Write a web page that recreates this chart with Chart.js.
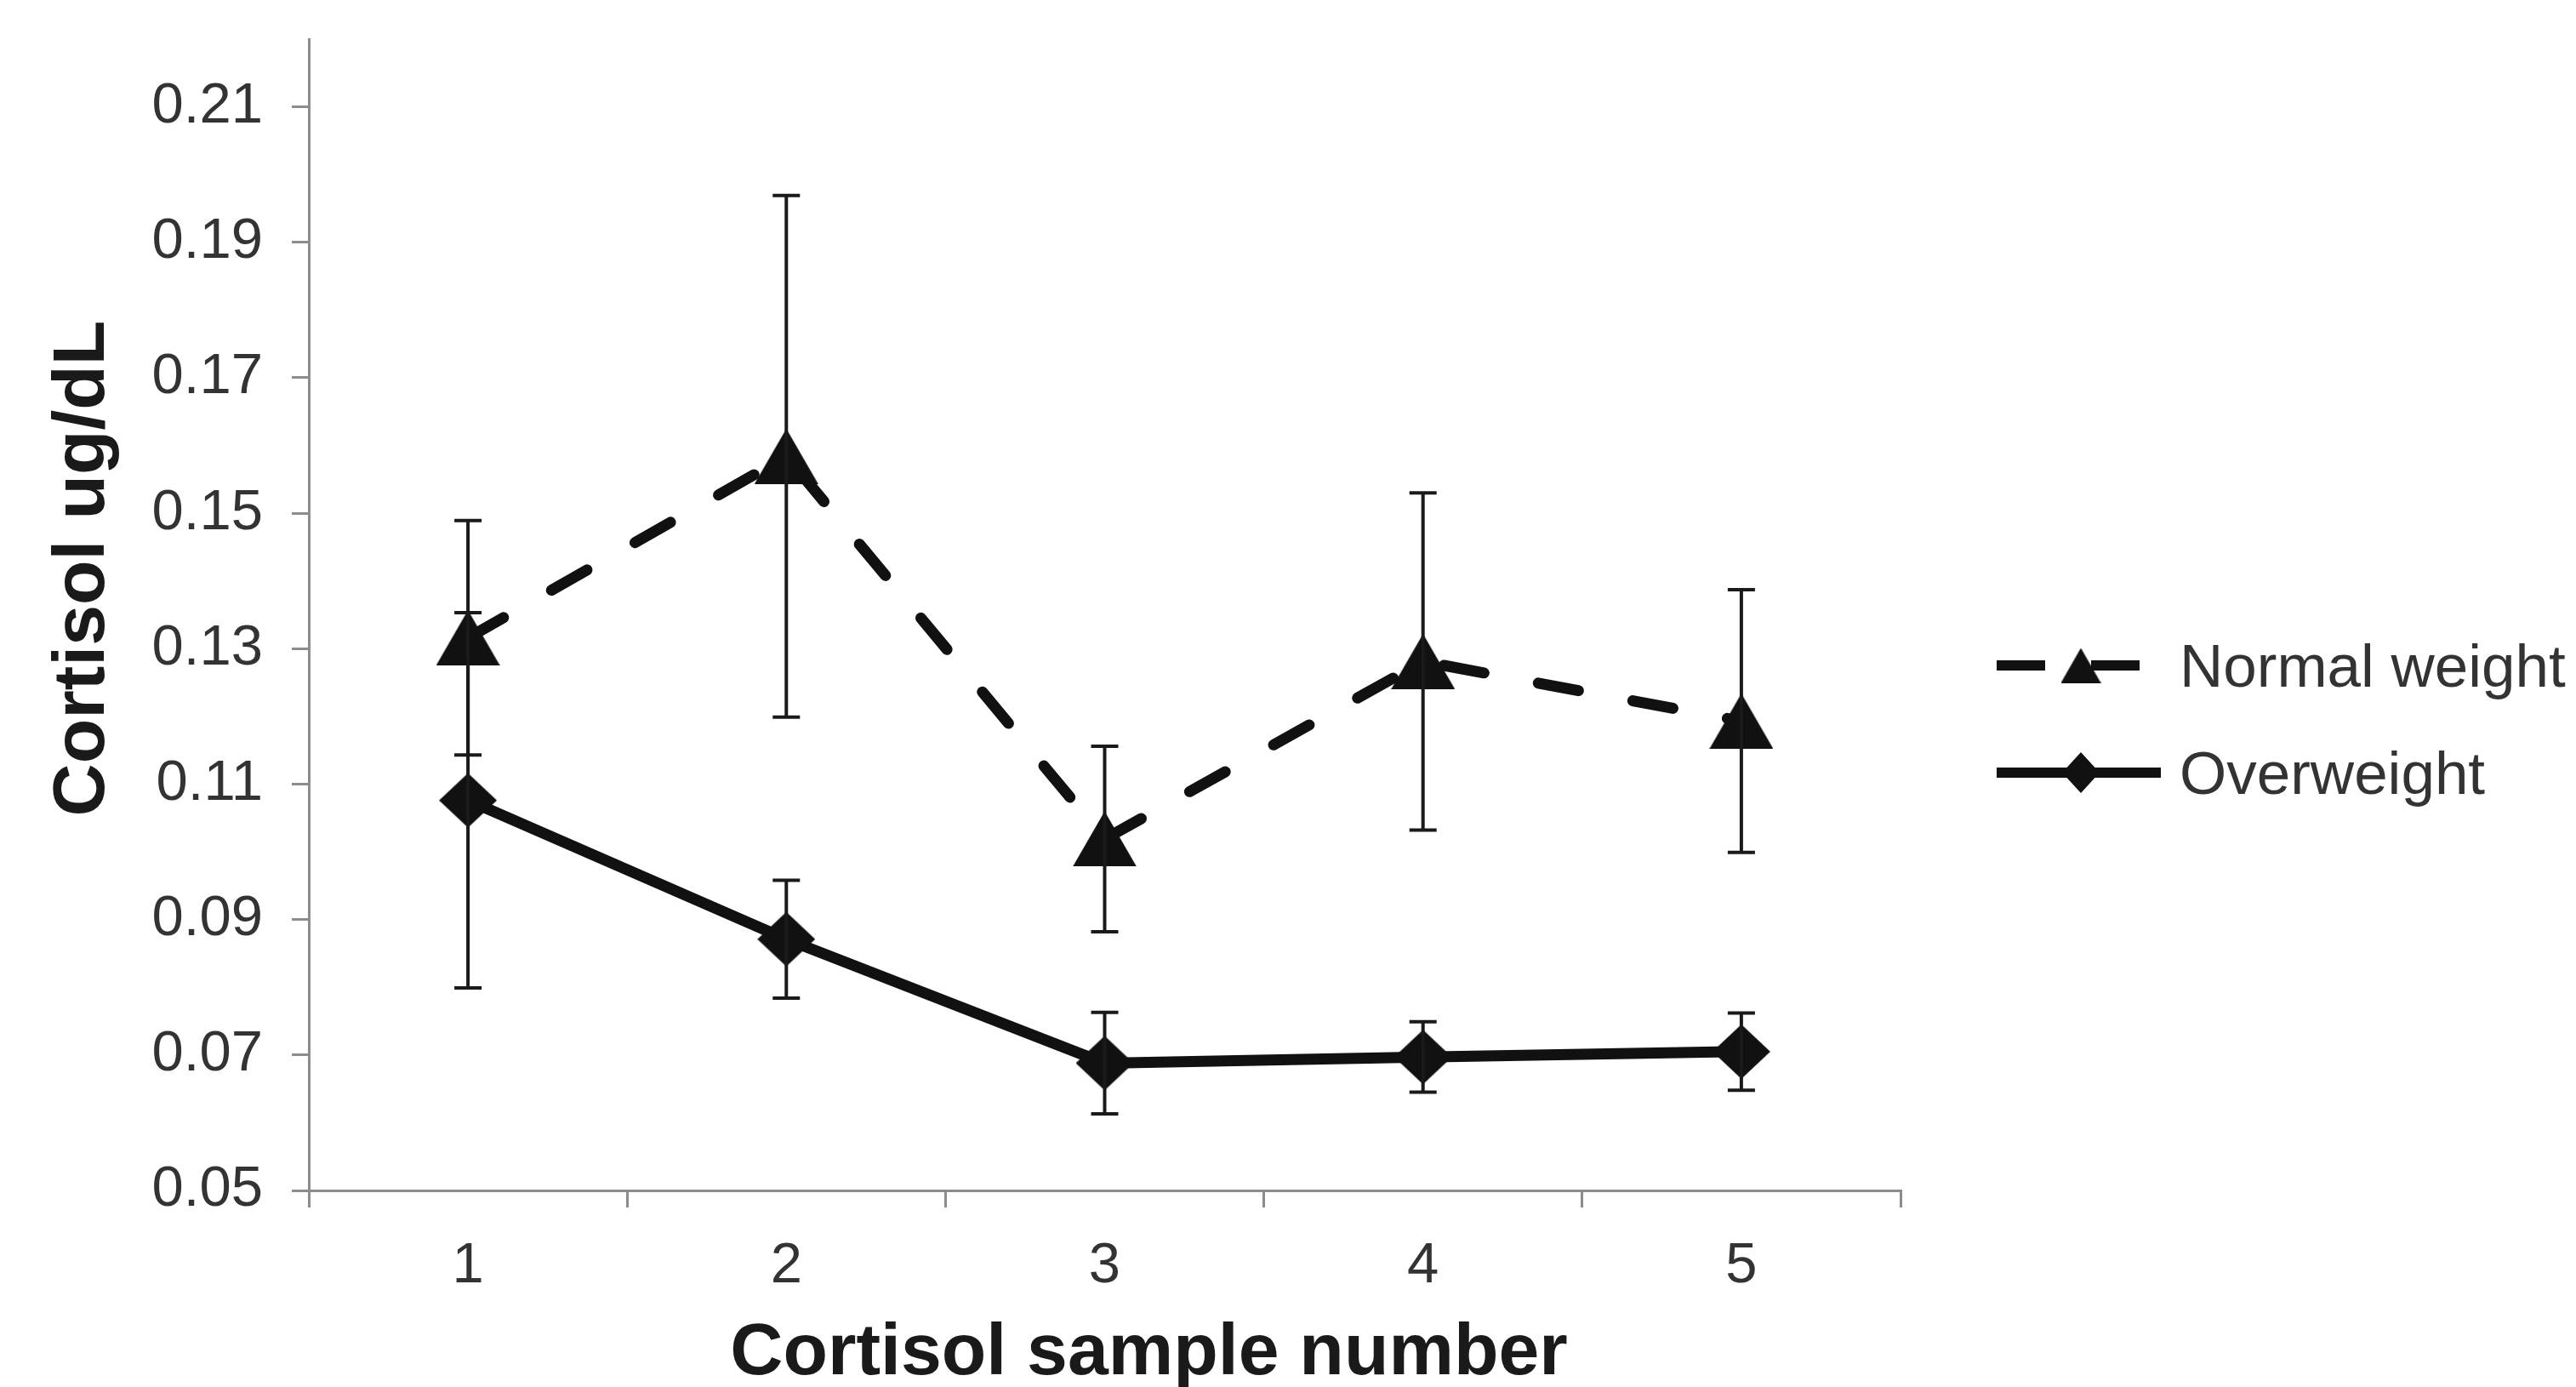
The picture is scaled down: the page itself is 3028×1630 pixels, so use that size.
<!DOCTYPE html>
<html>
<head>
<meta charset="utf-8">
<style>
  html, body { margin: 0; padding: 0; background: #fff; }
</style>
<script src="https://cdn.jsdelivr.net/npm/chart.js@4.4.1/dist/chart.umd.min.js"></script>
</head>
<body>
<canvas id="cortisolChart" width="3028" height="1630"></canvas>
<script>
const sampleNumbers = ['1', '2', '3', '4', '5'];
const normalWeight = [0.1316, 0.1584, 0.1019, 0.1281, 0.1193];
const normalWeightErr = [0.0173, 0.0385, 0.0137, 0.0249, 0.0194];
const overweight = [0.1076, 0.0871, 0.0688, 0.0697, 0.0705];
const overweightErr = [0.0277, 0.0087, 0.0075, 0.0052, 0.0057];
const yTicks = [0.05, 0.07, 0.09, 0.11, 0.13, 0.15, 0.17, 0.19, 0.21];

const INK = '#111';
const AXIS = '#8c8c8c';
const FONT = '"Liberation Sans", Arial, sans-serif';

// markers drawn on small canvases so they sit centred on their box
function makeMarker(kind, w, h) {
    const c = document.createElement('canvas');
    c.width = w;
    c.height = h;
    const g = c.getContext('2d');
    g.fillStyle = INK;
    g.beginPath();
    if (kind === 'triangle') {
        g.moveTo(w / 2, 0);
        g.lineTo(w, h);
        g.lineTo(0, h);
    } else {
        g.moveTo(w / 2, 0);
        g.lineTo(w, h / 2);
        g.lineTo(w / 2, h);
        g.lineTo(0, h / 2);
    }
    g.closePath();
    g.fill();
    return c;
}

const bigTriangle = makeMarker('triangle', 75, 65);
const bigDiamond = makeMarker('diamond', 68, 64);
const smallTriangle = makeMarker('triangle', 47, 41);
const smallDiamond = makeMarker('diamond', 44, 48);

const errorBars = {
    id: 'errorBars',
    afterDatasetsDraw(chart) {
        const { ctx, scales: { x, y } } = chart;
        ctx.save();
        ctx.strokeStyle = '#1a1a1a';
        ctx.lineWidth = 4;
        chart.data.datasets.forEach(ds => {
            ds.data.forEach((v, i) => {
                const px = x.getPixelForValue(i);
                const top = y.getPixelForValue(v + ds.errors[i]);
                const bot = y.getPixelForValue(v - ds.errors[i]);
                ctx.beginPath();
                ctx.moveTo(px, top); ctx.lineTo(px, bot);
                ctx.moveTo(px - 16, top); ctx.lineTo(px + 16, top);
                ctx.moveTo(px - 16, bot); ctx.lineTo(px + 16, bot);
                ctx.stroke();
            });
        });
        ctx.restore();
    }
};

const axisTitles = {
    id: 'axisTitles',
    afterDraw(chart) {
        const { ctx, chartArea: a } = chart;
        ctx.save();
        ctx.fillStyle = '#1a1a1a';
        ctx.font = 'bold 86px ' + FONT;
        ctx.textAlign = 'center';
        ctx.textBaseline = 'alphabetic';
        ctx.fillText('Cortisol sample number', (a.left + a.right) / 2 + 52, 1615);
        ctx.translate(122, 668);
        ctx.rotate(-Math.PI / 2);
        ctx.fillText('Cortisol ug/dL', 0, 0);
        ctx.restore();
    }
};

const sideLegend = {
    id: 'sideLegend',
    afterDraw(chart) {
        const { ctx } = chart;
        const rows = [782, 908];
        ctx.save();
        chart.data.datasets.forEach((ds, i) => {
            const cy = rows[i];
            const dashed = ds.borderDash.length > 0;
            ctx.strokeStyle = INK;
            ctx.lineWidth = 12;
            ctx.lineCap = 'butt';
            ctx.setLineDash(dashed ? [57, 54] : []);
            ctx.beginPath();
            ctx.moveTo(2347, cy);
            ctx.lineTo(dashed ? 2518 : 2540, cy);
            ctx.stroke();
            ctx.setLineDash([]);
            const m = dashed ? smallTriangle : smallDiamond;
            ctx.drawImage(m, 2446 - m.width / 2, cy - m.height / 2);
            ctx.fillStyle = '#333';
            ctx.font = '71px ' + FONT;
            ctx.textAlign = 'left';
            ctx.textBaseline = 'alphabetic';
            ctx.fillText(ds.label, 2562, cy + 25);
        });
        ctx.restore();
    }
};

new Chart(document.getElementById('cortisolChart'), {
    type: 'line',
    data: {
        labels: sampleNumbers,
        datasets: [
            {
                label: 'Normal weight',
                data: normalWeight,
                errors: normalWeightErr,
                borderColor: INK,
                backgroundColor: INK,
                borderWidth: 13,
                borderDash: [48, 65],
                borderCapStyle: 'round',
                pointStyle: bigTriangle,
                pointRadius: 30,
                tension: 0,
                fill: false
            },
            {
                label: 'Overweight',
                data: overweight,
                errors: overweightErr,
                borderColor: INK,
                backgroundColor: INK,
                borderWidth: 13,
                borderDash: [],
                pointStyle: bigDiamond,
                pointRadius: 30,
                tension: 0,
                fill: false
            }
        ]
    },
    options: {
        responsive: false,
        animation: false,
        layout: { padding: { top: 46, right: 794, bottom: 0, left: 0 } },
        plugins: {
            legend: { display: false },
            tooltip: { enabled: false }
        },
        scales: {
            x: {
                offset: true,
                grid: { offset: true, drawOnChartArea: false, drawTicks: true, tickLength: 20, color: AXIS, lineWidth: 3 },
                border: { display: true, color: AXIS, width: 3 },
                ticks: { color: '#333', font: { family: FONT, size: 67 }, padding: 29, maxRotation: 0 },
                afterFit: s => { s.height = 231; s.paddingLeft = 0; s.paddingRight = 0; }
            },
            y: {
                min: 0.05,
                max: 0.22,
                afterBuildTicks: s => { s.ticks = yTicks.map(v => ({ value: v })); },
                grid: { drawOnChartArea: false, drawTicks: true, tickLength: 20, color: AXIS, lineWidth: 3 },
                border: { display: true, color: AXIS, width: 3 },
                ticks: { color: '#333', font: { family: FONT, size: 67 }, padding: 34, callback: v => v.toFixed(2) },
                afterFit: s => { s.width = 363; s.paddingTop = 0; s.paddingBottom = 0; }
            }
        }
    },
    plugins: [errorBars, axisTitles, sideLegend]
});
</script>
</body>
</html>
